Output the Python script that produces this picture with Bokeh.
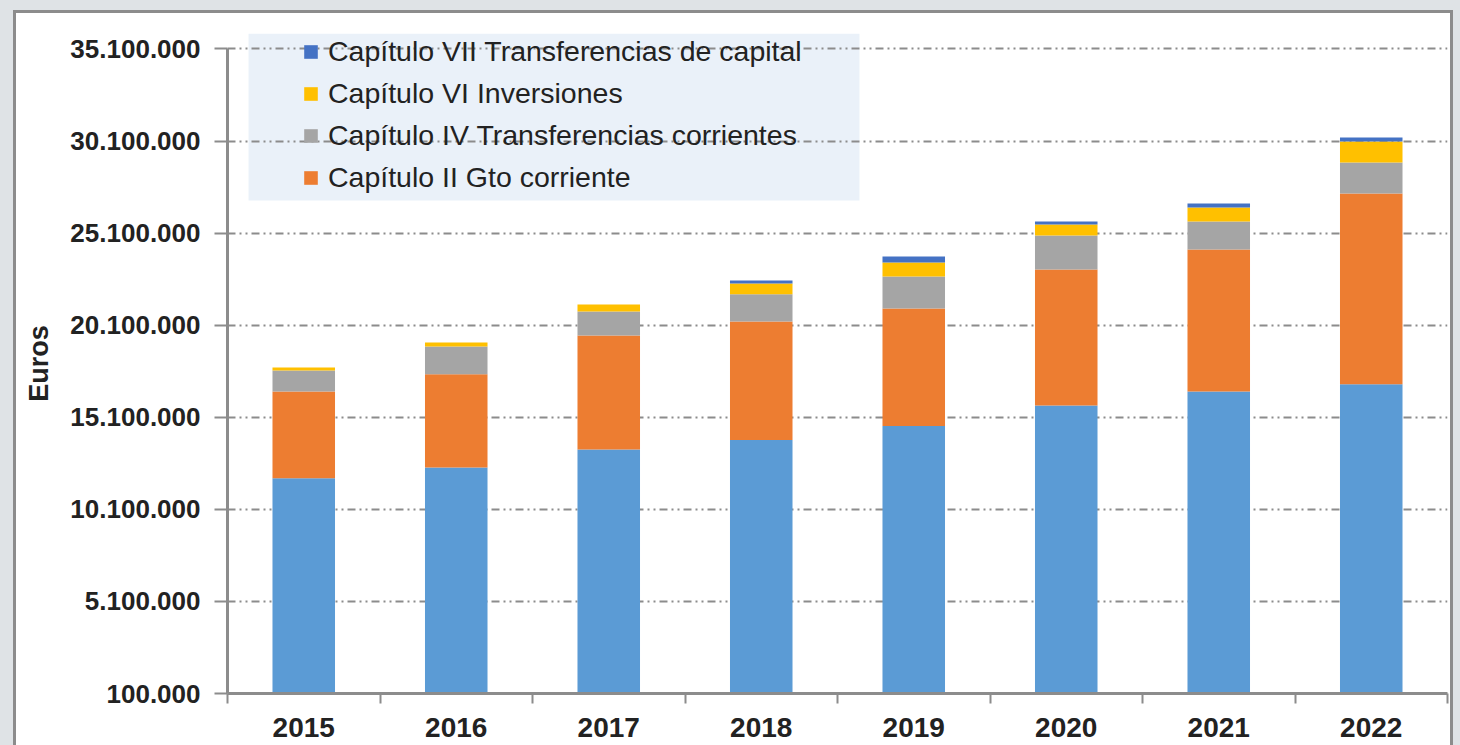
from bokeh.plotting import figure
from bokeh.models import (FactorRange, Range1d, LinearAxis, CategoricalAxis, FixedTicker,
                          Legend, LegendItem, BoxAnnotation, ColumnDataSource)
from bokeh.embed import file_html
from bokeh.resources import INLINE

# ---------------- data ----------------
years = ["2015", "2016", "2017", "2018", "2019", "2020", "2021", "2022"]
cap_i = [11790000, 12370000, 13350000, 13860000, 14620000, 15740000, 16500000, 16900000]
cap_ii = [4710000, 5070000, 6190000, 6440000, 6390000, 7390000, 7710000, 10350000]
cap_iv = [1140000, 1500000, 1300000, 1480000, 1740000, 1840000, 1520000, 1690000]
cap_vi = [160000, 220000, 380000, 590000, 760000, 600000, 760000, 1140000]
cap_vii = [0, 0, 0, 160000, 320000, 160000, 220000, 210000]

series_keys = ["cap_i", "cap_ii", "cap_iv", "cap_vi", "cap_vii"]
series_labels = ["Capítulo I", "Capítulo II Gto corriente", "Capítulo IV Transferencias corrientes",
                 "Capítulo VI Inversiones", "Capítulo VII Transferencias de capital"]
series_colors = ["#5b9bd5", "#ed7d31", "#a5a5a5", "#ffc000", "#4472c4"]

y_ticks = [100000, 5100000, 10100000, 15100000, 20100000, 25100000, 30100000, 35100000]
y_tick_labels = ["100.000", "5.100.000", "10.100.000", "15.100.000", "20.100.000",
                 "25.100.000", "30.100.000", "35.100.000"]

FONT = "Liberation Sans"
TXT = "#222222"
AXC = "#8c8c8c"

src = ColumnDataSource(dict(year=years, cap_i=cap_i, cap_ii=cap_ii, cap_iv=cap_iv,
                            cap_vi=cap_vi, cap_vii=cap_vii))

# frame extends a little above the top tick so the legend panel fits inside it
p = figure(width=1434, height=732, x_range=FactorRange(*years),
           y_range=Range1d(y_ticks[0], 35940000),
           x_axis_location=None, y_axis_location="left",
           output_backend="svg", toolbar_location=None,
           min_border_left=211, min_border_right=3, min_border_top=20, min_border_bottom=52)
p.outline_line_color = None
p.background_fill_color = "white"
p.border_fill_color = "white"

# y axis
ya = p.yaxis[0]
ya.ticker = FixedTicker(ticks=y_ticks)
ya.bounds = (y_ticks[0], y_ticks[-1])
ya.major_label_overrides = dict(zip(y_ticks, y_tick_labels))
ya.axis_line_color = AXC
ya.axis_line_width = 3
ya.major_tick_line_color = AXC
ya.major_tick_line_width = 2
ya.major_tick_in = 0
ya.major_tick_out = 13
ya.minor_tick_line_color = None
ya.major_label_text_font = FONT
ya.major_label_text_font_size = "26px"
ya.major_label_text_font_style = "bold"
ya.major_label_text_color = TXT
ya.major_label_standoff = 14
ya.axis_label = "Euros"
ya.axis_label_text_font = FONT
ya.axis_label_text_font_size = "27px"
ya.axis_label_text_font_style = "bold"
ya.axis_label_text_color = TXT
ya.axis_label_standoff = 13

p.xgrid.visible = False
p.ygrid.grid_line_color = AXC
p.ygrid.grid_line_width = 2
p.ygrid.grid_line_dash = "8 4 2 4 2 4"

# x axes: category-boundary ticks (synthetic coords) + centered labels
tick_axis = LinearAxis(ticker=FixedTicker(ticks=list(range(len(years) + 1))),
                       major_label_text_font_size="0px", major_label_standoff=0,
                       major_tick_in=0, major_tick_out=10, minor_tick_in=0, minor_tick_out=0,
                       axis_line_color=AXC, axis_line_width=3,
                       major_tick_line_color=AXC, major_tick_line_width=2,
                       minor_tick_line_color=None)
lab_axis = CategoricalAxis(axis_line_color=None, major_tick_line_color=None,
                           major_tick_in=0, major_tick_out=0, major_label_standoff=14,
                           major_label_text_font=FONT, major_label_text_font_size="28px",
                           major_label_text_font_style="bold", major_label_text_color=TXT)
p.add_layout(tick_axis, "below")
p.add_layout(lab_axis, "below")

# legend background panel
legend_bg = BoxAnnotation(left=0.138, right=4.144, bottom=26870000, top=35940000,
                          fill_color="#eaf1f9", fill_alpha=1,
                          line_color=None, level="image")
p.add_layout(legend_bg)

rs = p.vbar_stack(series_keys, x="year", width=0.41, source=src,
                  color=series_colors, line_color=None)

items = [LegendItem(label=series_labels[i], renderers=[rs[i]]) for i in [4, 3, 2, 1]]
legend = Legend(items=items, location=(75, 499), padding=0, margin=0, spacing=8,
                glyph_width=17, glyph_height=17, label_height=34, label_standoff=9,
                label_text_font=FONT, label_text_font_size="28.5px", label_text_color=TXT,
                background_fill_alpha=0, border_line_color=None)
p.add_layout(legend)

BC = "#8c8c8c"
p.styles = {
    "margin": "13px 0px -8px 16px",
    "box-shadow": (f"0px 8px 0 0 #ffffff, "
                   f"-3px 0px 0 0 {BC}, -3px 8px 0 0 {BC}, 3px 0px 0 0 {BC}, 3px 8px 0 0 {BC}, "
                   f"0px -3px 0 0 {BC}, -3px -3px 0 0 {BC}, 3px -3px 0 0 {BC}, "
                   f"0 0 0 40px #dfe3e6"),
}

open("out.html", "w").write(file_html(p, INLINE))
